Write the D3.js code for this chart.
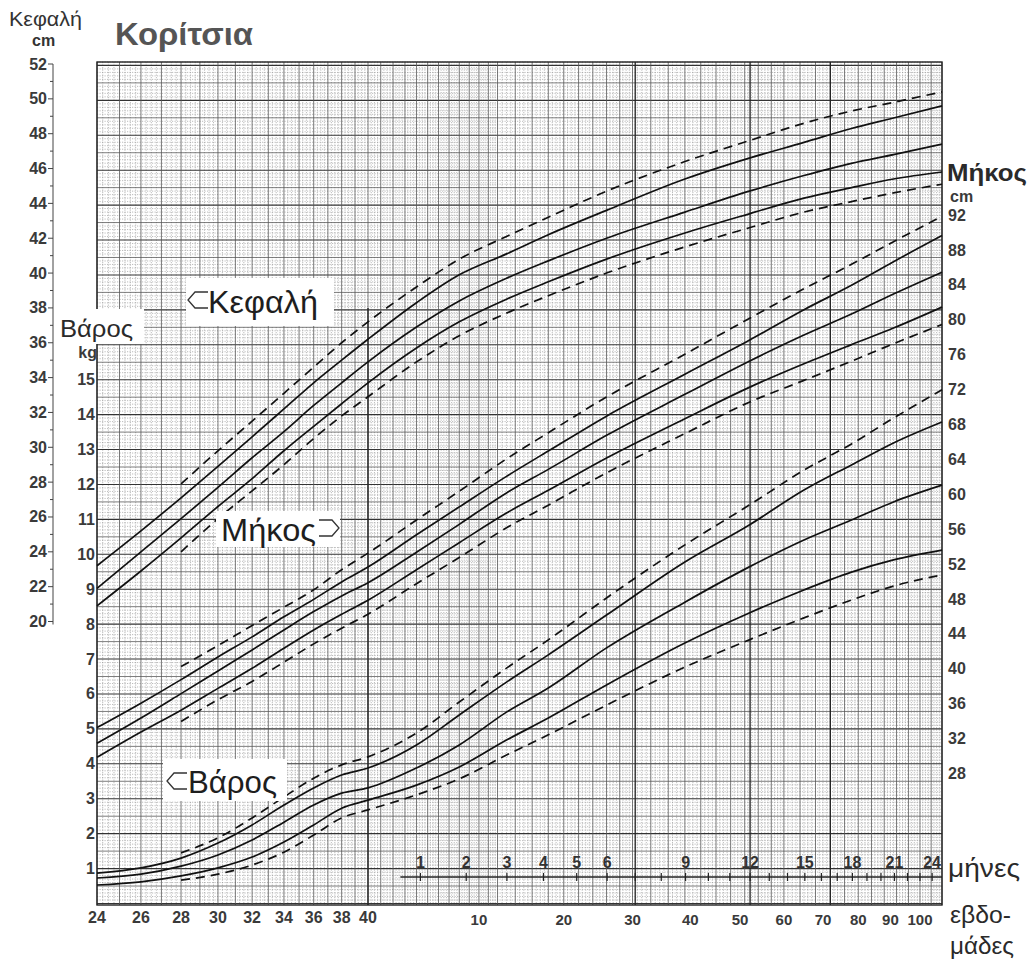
<!DOCTYPE html>
<html><head><meta charset="utf-8">
<script src="https://cdn.jsdelivr.net/npm/d3@7"></script>
<style>
  body { margin: 0; background: #fff; }
  text { font-family: "Liberation Sans", Arial, sans-serif; }
</style>
</head><body>
<svg id="chart" width="1031" height="962"></svg>
<script>
// Postmenstrual age in weeks: 24–40 = gestation, after 40 = 40 + weeks after birth
const ages = [24, 26, 28, 30, 32, 34, 36, 38, 40, 44, 48, 53, 58, 66, 79, 92, 105, 118, 131, 148];

// Head circumference (cm): P97, P90, P50, P10, P3
const headP97 = [null, null, 27.9, 29.8, 31.5, 33.1, 34.6, 36.0, 37.2, 39.2, 40.8, 42.1, 43.2, 44.7, 46.4, 47.6, 48.6, 49.3, 49.8, 50.4];
const headP90 = [23.2, 25.2, 27.1, 28.9, 30.6, 32.2, 33.7, 35.0, 36.2, 38.3, 39.9, 41.1, 42.2, 43.6, 45.4, 46.6, 47.5, 48.3, 48.9, 49.6];
const headP50 = [21.9, 24.0, 25.9, 27.7, 29.4, 30.9, 32.4, 33.7, 34.9, 36.9, 38.4, 39.7, 40.7, 42.0, 43.5, 44.7, 45.6, 46.3, 46.8, 47.4];
const headP10 = [20.9, 22.9, 24.8, 26.6, 28.2, 29.8, 31.2, 32.5, 33.7, 35.7, 37.2, 38.5, 39.5, 40.8, 42.3, 43.4, 44.3, 44.9, 45.4, 45.8];
const headP3  = [null, null, 24.0, 25.9, 27.5, 29.0, 30.5, 31.8, 32.9, 34.9, 36.4, 37.7, 38.7, 40.0, 41.5, 42.6, 43.5, 44.1, 44.6, 45.1];

// Length (cm)
const lenP97 = [null, null, 40.2, 42.6, 44.9, 47.0, 49.0, 51.3, 53.2, 57.0, 60.3, 64.0, 67.0, 71.1, 76.0, 80.1, 83.5, 86.3, 88.9, 91.8];
const lenP90 = [33.2, 36.0, 38.7, 41.3, 43.6, 45.9, 47.9, 49.9, 51.6, 55.3, 58.5, 62.0, 64.9, 68.9, 73.7, 77.6, 81.1, 83.9, 86.6, 89.6];
const lenP50 = [31.4, 34.3, 37.1, 39.7, 42.1, 44.4, 46.5, 48.3, 49.8, 53.3, 56.5, 60.1, 62.8, 66.7, 71.4, 75.2, 78.2, 80.6, 82.9, 85.4];
const lenP10 = [29.8, 32.7, 35.2, 37.7, 40.0, 42.3, 44.4, 46.2, 47.8, 51.3, 54.4, 57.8, 60.4, 64.1, 68.6, 72.2, 74.9, 77.1, 79.0, 81.4];
const lenP3  = [null, null, 33.9, 36.4, 38.5, 40.7, 42.8, 44.6, 46.2, 49.7, 52.7, 56.1, 58.7, 62.4, 66.9, 70.5, 73.0, 75.2, 77.2, 79.4];

// Weight (kg)
const wtP97 = [null, null, 1.45, 1.88, 2.45, 3.05, 3.59, 3.97, 4.20, 4.88, 5.77, 6.74, 7.55, 8.75, 10.27, 11.41, 12.41, 13.16, 13.90, 14.71];
const wtP90 = [0.87, 1.02, 1.30, 1.73, 2.25, 2.82, 3.31, 3.68, 3.88, 4.54, 5.40, 6.34, 7.12, 8.26, 9.78, 10.84, 11.84, 12.56, 13.19, 13.79];
const wtP50 = [0.73, 0.84, 1.07, 1.39, 1.82, 2.33, 2.82, 3.16, 3.31, 3.88, 4.54, 5.48, 6.17, 7.32, 8.63, 9.64, 10.41, 10.98, 11.50, 11.98];
const wtP10 = [0.53, 0.62, 0.79, 1.02, 1.33, 1.76, 2.25, 2.73, 2.96, 3.39, 3.91, 4.68, 5.31, 6.26, 7.46, 8.32, 8.98, 9.49, 9.84, 10.12];
const wtP3  = [null, null, 0.67, 0.84, 1.10, 1.47, 1.96, 2.45, 2.68, 3.11, 3.57, 4.25, 4.83, 5.68, 6.77, 7.55, 8.18, 8.69, 9.09, 9.41];

// Axis labels
const headTicks = d3.range(20, 53, 2);             // 20 … 52
const weightTicks = d3.range(1, 16);               // 1 … 15
const lengthTicks = d3.range(28, 93, 4);           // 28 … 92
const gestWeekTicks = [24, 26, 28, 30, 32, 34, 36, 38, 40];
const postWeekTicks = [10, 20, 30, 40, 50, 60, 70, 80, 90, 100];
const monthTicks = d3.range(1, 25);
const monthLabels = [1, 2, 3, 4, 5, 6, 9, 12, 15, 18, 21, 24];

// ---- scales -------------------------------------------------------------
const xPre  = d3.scaleLog().domain([20, 36]).range([97, 368]);   // gestational week − 4
const xPost = d3.scaleLog().domain([28, 136]).range([368, 942]); // weeks after birth + 28
const x = t => t <= 40 ? xPre(t - 4) : xPost(t - 40 + 28);
const weeksPerMonth = 4.348;

const yW = d3.scaleLinear().domain([0, 15]).range([903.5, 379.7]);
const yH = d3.scaleLinear().domain([20, 52]).range([621.5, 64]);
const yL = d3.scaleLinear().domain([28, 92]).range([773, 214.6]);

const plotL = x(24), plotR = x(148), plotT = 62, plotB = 905;

const svg = d3.select("#chart");

// ---- grid ---------------------------------------------------------------
const grid = svg.append("g");
grid.append("rect").attr("x", plotL).attr("y", plotT)
  .attr("width", plotR - plotL).attr("height", plotB - plotT).attr("fill", "#fff");

// fine horizontal rulings every 0.1 kg
const fineKg = d3.range(0, 24.15, 0.1).filter(v => Math.abs(v * 2 - Math.round(v * 2)) > 0.01);
grid.selectAll(".hf").data(fineKg).join("line")
  .attr("x1", plotL).attr("x2", plotR)
  .attr("y1", d => yW(d)).attr("y2", d => yW(d))
  .attr("stroke", "#8f8f8f").attr("stroke-width", 0.6).attr("stroke-dasharray", "1.2,1.3");

// vertical rulings: weekly before term, widening steps after birth
const preWeeks = d3.range(24, 40.01, 1);
const postWeeks = [].concat(d3.range(1, 13, 1), d3.range(14, 31, 2), d3.range(33, 61, 3), d3.range(64, 109, 4));
const majorT = preWeeks.concat(postWeeks.map(w => 40 + w));
const fineT = [];
for (let i = 0; i < majorT.length - 1; i++) {
  for (let k = 1; k < 4; k++) fineT.push(majorT[i] + (majorT[i + 1] - majorT[i]) * k / 4);
}
grid.selectAll(".vf").data(fineT).join("line")
  .attr("x1", d => x(d)).attr("x2", d => x(d))
  .attr("y1", plotT).attr("y2", plotB)
  .attr("stroke", "#8f8f8f").attr("stroke-width", 0.6).attr("stroke-dasharray", "1.2,1.3");

const halfKg = d3.range(0, 24.15, 0.5);
grid.selectAll(".hm").data(halfKg).join("line")
  .attr("x1", plotL).attr("x2", plotR)
  .attr("y1", d => yW(d)).attr("y2", d => yW(d))
  .attr("stroke", d => Number.isInteger(d) ? "#333" : "#5a5a5a")
  .attr("stroke-width", d => Number.isInteger(d) ? 1.1 : 0.8);

grid.selectAll(".vm").data(majorT).join("line")
  .attr("x1", d => x(d)).attr("x2", d => x(d))
  .attr("y1", plotT).attr("y2", plotB)
  .attr("stroke", "#555").attr("stroke-width", 0.8);

// heavier verticals: term (lower part), 7 months, 12 months, 72 weeks
const heavyT = [40 + 7 * weeksPerMonth, 40 + 12 * weeksPerMonth, 40 + 72];
grid.selectAll(".vh").data(heavyT).join("line")
  .attr("x1", d => x(d)).attr("x2", d => x(d))
  .attr("y1", plotT).attr("y2", plotB)
  .attr("stroke", "#222").attr("stroke-width", 1.3);
grid.append("line").attr("x1", x(40)).attr("x2", x(40))
  .attr("y1", yH(38)).attr("y2", plotB)
  .attr("stroke", "#222").attr("stroke-width", 1.4);

grid.append("rect").attr("x", plotL).attr("y", plotT)
  .attr("width", plotR - plotL).attr("height", plotB - plotT)
  .attr("fill", "none").attr("stroke", "#222").attr("stroke-width", 1.4);

// ---- month scale inside the plot -----------------------------------------
const yMonth = 877;
const mg = svg.append("g");
mg.append("line").attr("x1", x(40 + 0.6 * weeksPerMonth)).attr("x2", plotR)
  .attr("y1", yMonth).attr("y2", yMonth).attr("stroke", "#222").attr("stroke-width", 1.3);
mg.selectAll(".mt").data(monthTicks).join("line")
  .attr("x1", d => x(40 + d * weeksPerMonth)).attr("x2", d => x(40 + d * weeksPerMonth))
  .attr("y1", yMonth - 4).attr("y2", yMonth + 4)
  .attr("stroke", "#222").attr("stroke-width", 1.2);
mg.selectAll(".ml").data(monthLabels).join("text")
  .attr("x", d => x(40 + d * weeksPerMonth)).attr("y", yMonth - 9)
  .attr("text-anchor", "middle").attr("font-size", 16).attr("font-weight", "bold")
  .attr("fill", "#333").text(d => d);

// ---- percentile curves ----------------------------------------------------
const curves = [
  { v: headP97, y: yH, dash: true }, { v: headP90, y: yH }, { v: headP50, y: yH },
  { v: headP10, y: yH }, { v: headP3, y: yH, dash: true },
  { v: lenP97, y: yL, dash: true }, { v: lenP90, y: yL }, { v: lenP50, y: yL },
  { v: lenP10, y: yL }, { v: lenP3, y: yL, dash: true },
  { v: wtP97, y: yW, dash: true }, { v: wtP90, y: yW }, { v: wtP50, y: yW },
  { v: wtP10, y: yW }, { v: wtP3, y: yW, dash: true }
];
const cg = svg.append("g");
curves.forEach(c => {
  const pts = ages.map((a, i) => [a, c.v[i]]).filter(p => p[1] != null);
  const line = d3.line().x(p => x(p[0])).y(p => c.y(p[1])).curve(d3.curveMonotoneX);
  cg.append("path").attr("d", line(pts)).attr("fill", "none")
    .attr("stroke", "#111").attr("stroke-width", 1.7)
    .attr("stroke-dasharray", c.dash ? "9,6" : null);
});

// ---- label boxes on the grid ---------------------------------------------
function legend(bx, by, bw, bh, label, tx, ty, tw, arrow) {
  const g = svg.append("g");
  g.append("rect").attr("x", bx).attr("y", by).attr("width", bw).attr("height", bh).attr("fill", "#fff");
  g.append("path").attr("d", arrow).attr("fill", "#fff").attr("stroke", "#333").attr("stroke-width", 1.3);
  g.append("text").attr("x", tx).attr("y", ty).attr("font-size", 31)
    .attr("textLength", tw).attr("lengthAdjust", "spacingAndGlyphs")
    .attr("fill", "#1e1e1e").text(label);
}
legend(186, 278, 148, 48, "Κεφαλή", 208, 313, 110, "M208,292 L195,292 L188,300 L195,308 L208,308");
legend(216, 511, 124, 36, "Μήκος", 221, 541, 95, "M319,520 L332,520 L339,528 L332,536 L319,536");
legend(163, 759, 124, 42, "Βάρος", 188, 793, 89, "M187,773 L174,773 L167,781 L174,789 L187,789");

// ---- left axes -----------------------------------------------------------
const axisG = svg.append("g");
axisG.append("line").attr("x1", 53).attr("x2", 53).attr("y1", yH(52)).attr("y2", yH(20) + 3)
  .attr("stroke", "#444").attr("stroke-width", 1);
axisG.selectAll(".hmt").data(d3.range(20, 53, 1)).join("line")
  .attr("x1", d => d % 2 ? 50 : 48).attr("x2", 53)
  .attr("y1", d => yH(d)).attr("y2", d => yH(d)).attr("stroke", "#444").attr("stroke-width", 1);
axisG.selectAll(".hl").data(headTicks).join("text")
  .attr("x", 47).attr("y", d => yH(d) + 5.5).attr("text-anchor", "end")
  .attr("font-size", 16).attr("font-weight", "bold").attr("fill", "#3a3a3a").text(d => d);

svg.append("text").attr("x", 9).attr("y", 26).attr("font-size", 20).attr("fill", "#333")
  .attr("textLength", 73).attr("lengthAdjust", "spacingAndGlyphs").text("Κεφαλή");
svg.append("text").attr("x", 32).attr("y", 46).attr("font-size", 16).attr("font-weight", "bold")
  .attr("fill", "#333").text("cm");

// weight label sits in a white notch of the grid
svg.append("rect").attr("x", 56).attr("y", 309).attr("width", 88).attr("height", 35).attr("fill", "#fff");
svg.append("text").attr("x", 60).attr("y", 337).attr("font-size", 24).attr("fill", "#2a2a2a")
  .attr("textLength", 73).attr("lengthAdjust", "spacingAndGlyphs").text("Βάρος");
svg.append("text").attr("x", 97).attr("y", 358).attr("text-anchor", "end").attr("font-size", 16)
  .attr("font-weight", "bold").attr("fill", "#3a3a3a").text("kg");
axisG.selectAll(".wl").data(weightTicks).join("text")
  .attr("x", 95).attr("y", d => yW(d) + 5.5).attr("text-anchor", "end")
  .attr("font-size", 16).attr("font-weight", "bold").attr("fill", "#3a3a3a").text(d => d);

// ---- right axis: length ----------------------------------------------------
svg.append("text").attr("x", 947).attr("y", 181).attr("font-size", 24).attr("font-weight", "bold")
  .attr("textLength", 80).attr("lengthAdjust", "spacingAndGlyphs")
  .attr("fill", "#2a2a2a").text("Μήκος");
svg.append("text").attr("x", 950).attr("y", 202).attr("font-size", 16).attr("font-weight", "bold")
  .attr("fill", "#3a3a3a").text("cm");
axisG.selectAll(".ll").data(lengthTicks).join("text")
  .attr("x", 948).attr("y", d => yL(d) + 6)
  .attr("font-size", 16).attr("font-weight", "bold").attr("fill", "#3a3a3a").text(d => d);

// ---- bottom axis ---------------------------------------------------------------
axisG.selectAll(".gw").data(gestWeekTicks).join("text")
  .attr("x", d => x(d)).attr("y", 923).attr("text-anchor", "middle")
  .attr("font-size", 16).attr("font-weight", "bold").attr("fill", "#3a3a3a").text(d => d);
axisG.selectAll(".pw").data(postWeekTicks).join("text")
  .attr("x", d => x(40 + d)).attr("y", 925).attr("text-anchor", "middle")
  .attr("font-size", 15).attr("font-weight", "bold").attr("fill", "#3a3a3a").text(d => d);

svg.append("text").attr("x", 948).attr("y", 877).attr("font-size", 26).attr("fill", "#2a2a2a")
  .attr("textLength", 72).attr("lengthAdjust", "spacingAndGlyphs").text("μήνες");
svg.append("text").attr("x", 950).attr("y", 923).attr("font-size", 24).attr("fill", "#2a2a2a")
  .attr("textLength", 61).attr("lengthAdjust", "spacingAndGlyphs").text("εβδο-");
svg.append("text").attr("x", 950).attr("y", 954).attr("font-size", 24).attr("fill", "#2a2a2a")
  .attr("textLength", 64).attr("lengthAdjust", "spacingAndGlyphs").text("μάδες");

// ---- title ---------------------------------------------------------------
svg.append("text").attr("x", 115).attr("y", 45).attr("font-size", 31).attr("font-weight", "bold")
  .attr("textLength", 138).attr("lengthAdjust", "spacingAndGlyphs")
  .attr("fill", "#555").text("Κορίτσια");
</script>
</body></html>
